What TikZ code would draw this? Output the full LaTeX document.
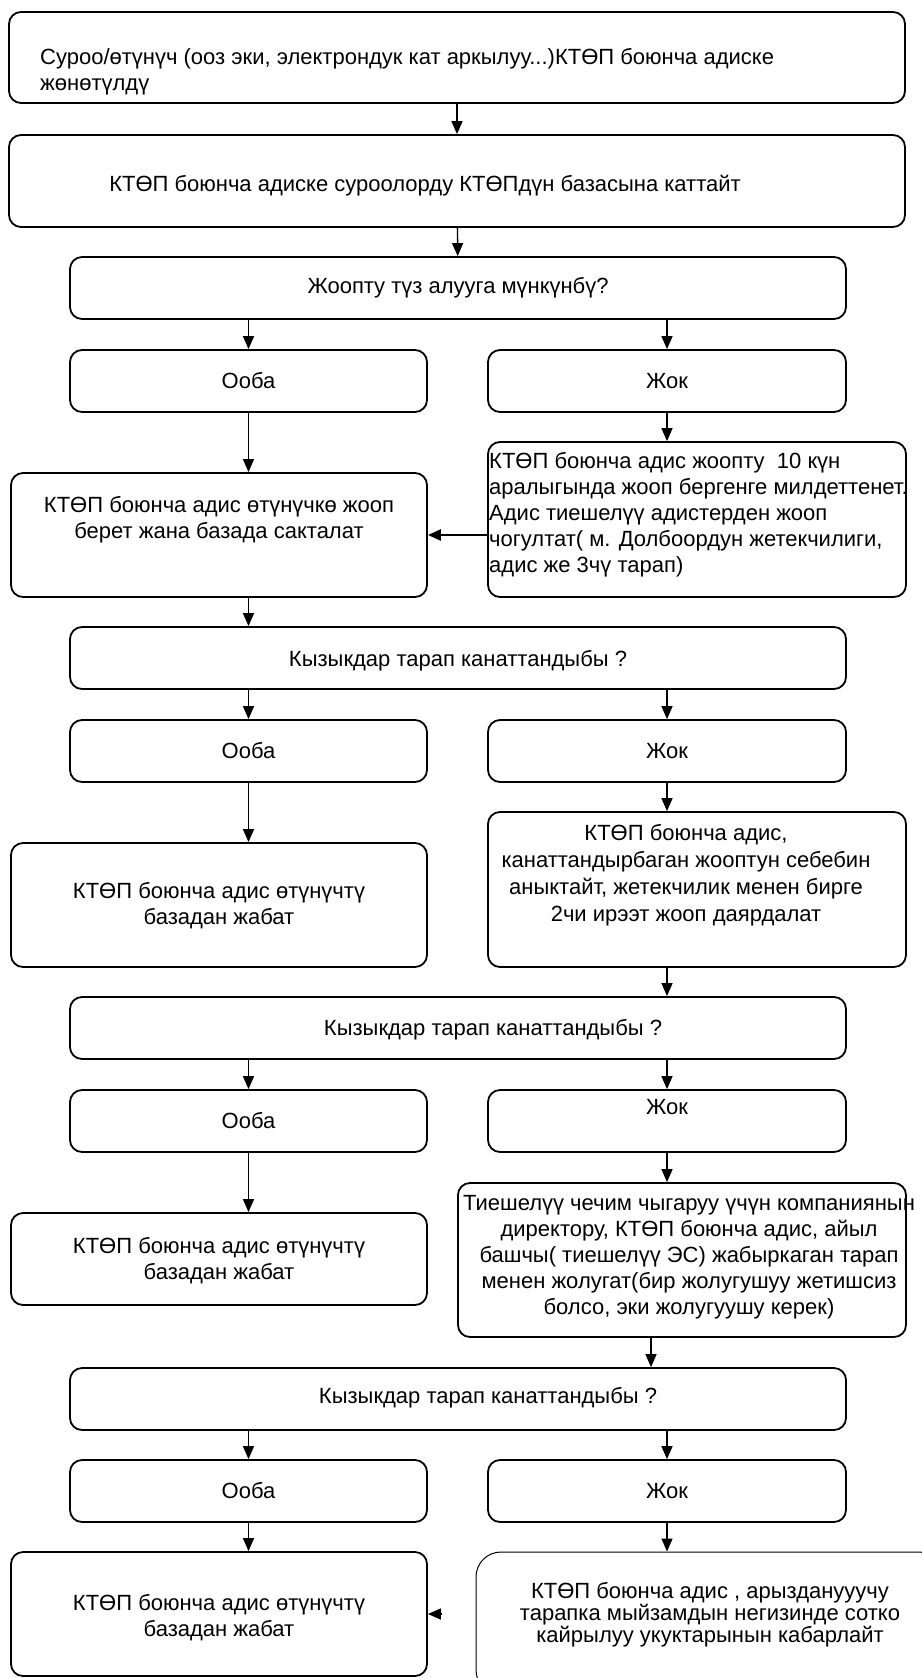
\documentclass[tikz,border=0pt]{standalone}
\usepackage{fontspec}
\setmainfont{Liberation Sans}
\usetikzlibrary{arrows.meta}

\begin{document}
\begin{tikzpicture}[x=1pt,y=-1pt,
    box/.style={draw,rounded corners=12pt,line width=1.8pt,inner sep=0pt},
    txt/.style={align=center,inner sep=0pt,font=\fontsize{22}{26}\selectfont},
    >={Triangle[length=13pt,width=11pt]}]
\useasboundingbox (0,0) rectangle (921,1678);

% boxes
\node[box,minimum width=896pt,minimum height=91pt] (b1) at (457,57.5) {};
\node[box,minimum width=896pt,minimum height=92pt] (b2) at (457,181) {};
\node[box,minimum width=776pt,minimum height=62pt] (q1) at (458,288) {};
\node[box,minimum width=357pt,minimum height=62pt] (o1) at (248.5,381) {};
\node[box,minimum width=358pt,minimum height=62pt] (j1) at (667,381) {};
\node[box,minimum width=416pt,minimum height=124pt] (l1) at (219,535) {};
\node[box,minimum width=418pt,minimum height=155pt] (r1) at (697,519.5) {};
\node[box,minimum width=776pt,minimum height=62pt] (q2) at (458,658) {};
\node[box,minimum width=357pt,minimum height=62pt] (o2) at (248.5,751) {};
\node[box,minimum width=358pt,minimum height=62pt] (j2) at (667,751) {};
\node[box,minimum width=416pt,minimum height=124pt] (l2) at (219,905) {};
\node[box,minimum width=418pt,minimum height=155pt] (r2) at (697,889.5) {};
\node[box,minimum width=776pt,minimum height=62pt] (q3) at (458,1028) {};
\node[box,minimum width=357pt,minimum height=62pt] (o3) at (248.5,1121) {};
\node[box,minimum width=358pt,minimum height=62pt] (j3) at (667,1121) {};
\node[box,minimum width=416pt,minimum height=92pt] (l3) at (219,1259) {};
\node[box,minimum width=448pt,minimum height=154pt] (r3) at (682,1260) {};
\node[box,minimum width=776pt,minimum height=62pt] (q4) at (458,1399) {};
\node[box,minimum width=357pt,minimum height=62pt] (o4) at (248.5,1491) {};
\node[box,minimum width=358pt,minimum height=62pt] (j4) at (667,1491) {};
\node[box,minimum width=416pt,minimum height=124pt] (l4) at (219,1614) {};
\node[box,rounded corners=25pt,line width=1pt,minimum width=468pt,minimum height=143pt] (r4) at (710,1623.5) {};

% texts
\node[txt,align=left,anchor=west] (b1t) at (40,72) {Суроо/өтүнүч (ооз эки, электрондук кат аркылуу...)КТӨП боюнча адиске\\жөнөтүлдү};
\node[txt] (b2t) at (425,186) {КТӨП боюнча адиске суроолорду КТӨПдүн базасына каттайт};
\node[txt] (q1t) at (q1) {Жоопту түз алууга мүнкүнбү?};
\node[txt] (o1t) at (o1) {Ооба};
\node[txt] (j1t) at (j1) {Жок};
\node[txt] (l1t) at (219,520) {КТӨП боюнча адис өтүнүчкө жооп\\берет жана базада сакталат};
\node[txt,align=left,anchor=west] (r1t) at (489,514.5) {КТӨП боюнча адис жоопту~ 10 күн\\аралыгында жооп бергенге милдеттенет.\\Адис тиешелүү адистерден жооп\\чогултат( м. Долбоордун жетекчилиги,\\адис же 3чү тарап)};
\node[txt] (q2t) at (458,661) {Кызыкдар тарап канаттандыбы ?};
\node[txt] (o2t) at (o2) {Ооба};
\node[txt] (j2t) at (j2) {Жок};
\node[txt] (l2t) at (219,906) {КТӨП боюнча адис өтүнүчтү\\базадан жабат};
\node[txt,font=\fontsize{22}{27}\selectfont] (r2t) at (686,875) {КТӨП боюнча адис,\\канаттандырбаган жооптун себебин\\аныктайт, жетекчилик менен бирге\\2чи ирээт жооп даярдалат};
\node[txt] (q3t) at (493,1030) {Кызыкдар тарап канаттандыбы ?};
\node[txt] (o3t) at (o3) {Ооба};
\node[txt] (j3t) at (667,1107) {Жок};
\node[txt] (l3t) at (219,1261) {КТӨП боюнча адис өтүнүчтү\\базадан жабат};
\node[txt] (r3t) at (689,1257.5) {Тиешелүү чечим чыгаруу үчүн компаниянын\\директору, КТӨП боюнча адис, айыл\\башчы( тиешелүү ЭС) жабыркаган тарап\\менен жолугат(бир жолугушуу жетишсиз\\болсо, эки жолугуушу керек)};
\node[txt] (q4t) at (488,1398) {Кызыкдар тарап канаттандыбы ?};
\node[txt] (o4t) at (o4) {Ооба};
\node[txt] (j4t) at (j4) {Жок};
\node[txt] (l4t) at (219,1618) {КТӨП боюнча адис өтүнүчтү\\базадан жабат};
\node[txt,font=\fontsize{22}{22}\selectfont] (r4t) at (710,1615) {КТӨП боюнча адис , арызданууучу\\тарапка мыйзамдын негизинде сотко\\кайрылуу укуктарынын кабарлайт};

% arrows
\path[->,line width=1.4pt]
  (b1) edge (b2)
  (b2) edge (q1)
  (q1.south -| o1) edge (o1)
  (q1.south -| j1) edge (j1)
  (o1) edge (o1 |- l1.north)
  (j1) edge (j1 |- r1.north)
  (r1.west |- l1.east) edge[line width=2.6pt] (l1)
  (o1 |- l1.south) edge (o1 |- q2.north)
  (q2.south -| o2) edge (o2)
  (q2.south -| j2) edge (j2)
  (o2) edge (o2 |- l2.north)
  (j2) edge (j2 |- r2.north)
  (j2 |- r2.south) edge (j2 |- q3.north)
  (q3.south -| o3) edge (o3)
  (q3.south -| j3) edge (j3)
  (o3) edge (o3 |- l3.north)
  (j3) edge (j3 |- r3.north)
  ([xshift=-31pt]r3.south) edge ([xshift=-31pt]r3.south |- q4.north)
  (q4.south -| o4) edge (o4)
  (q4.south -| j4) edge (j4)
  (o4) edge (o4 |- l4.north)
  (j4) edge (j4 |- r4.north)
  (r4.west |- l4.east) edge[shorten <=35pt] (l4);
\end{tikzpicture}
\end{document}
